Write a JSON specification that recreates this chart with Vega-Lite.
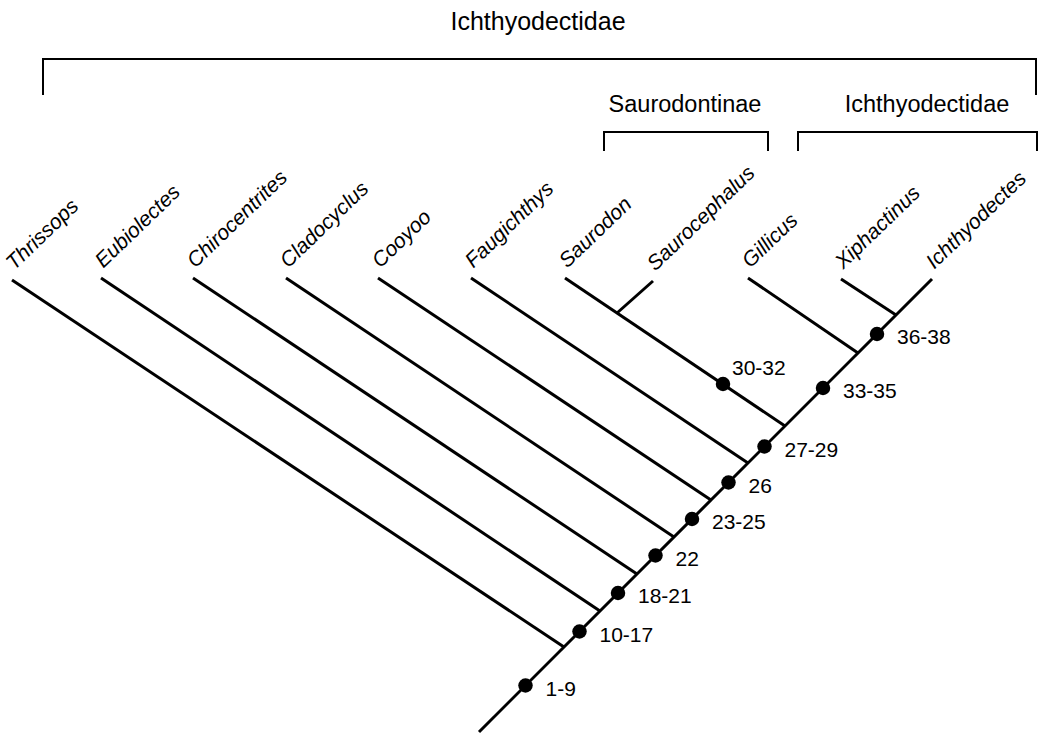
{
  "$schema": "https://vega.github.io/schema/vega-lite/v6.json",
  "width": 1041,
  "height": 734,
  "padding": 0,
  "autosize": {"type": "none"},
  "background": "white",
  "config": {"view": {"stroke": null}},
  "datasets": {
    "branches": [
      {"name": "spine", "x": 479, "y": 732, "x2": 932, "y2": 279},
      {"name": "Thrissops", "x": 12, "y": 280, "x2": 564, "y2": 647},
      {"name": "Eubiolectes", "x": 101, "y": 278, "x2": 600, "y2": 611},
      {"name": "Chirocentrites", "x": 193, "y": 278, "x2": 637, "y2": 574},
      {"name": "Cladocyclus", "x": 286, "y": 278, "x2": 674, "y2": 537},
      {"name": "Cooyoo", "x": 378, "y": 278, "x2": 711, "y2": 500},
      {"name": "Faugichthys", "x": 471, "y": 278, "x2": 748, "y2": 463},
      {"name": "Saurodon", "x": 565, "y": 278, "x2": 785, "y2": 426},
      {"name": "Saurocephalus", "x": 653, "y": 281, "x2": 617, "y2": 313},
      {"name": "Gillicus", "x": 748, "y": 278, "x2": 858, "y2": 353},
      {"name": "Xiphactinus", "x": 841, "y": 279, "x2": 896, "y2": 315}
    ],
    "brackets": [
      {"x": 43, "y": 59, "x2": 1036, "y2": 59},
      {"x": 43, "y": 59, "x2": 43, "y2": 94},
      {"x": 1036, "y": 59, "x2": 1036, "y2": 94},
      {"x": 604, "y": 132, "x2": 768, "y2": 132},
      {"x": 604, "y": 132, "x2": 604, "y2": 150},
      {"x": 768, "y": 132, "x2": 768, "y2": 150},
      {"x": 798, "y": 132, "x2": 1037, "y2": 132},
      {"x": 798, "y": 132, "x2": 798, "y2": 150},
      {"x": 1037, "y": 132, "x2": 1037, "y2": 150}
    ],
    "taxa": [
      {"taxon": "Thrissops", "x": 12, "y": 280},
      {"taxon": "Eubiolectes", "x": 101, "y": 278},
      {"taxon": "Chirocentrites", "x": 193, "y": 278},
      {"taxon": "Cladocyclus", "x": 286, "y": 278},
      {"taxon": "Cooyoo", "x": 378, "y": 278},
      {"taxon": "Faugichthys", "x": 471, "y": 278},
      {"taxon": "Saurodon", "x": 565, "y": 278},
      {"taxon": "Saurocephalus", "x": 653, "y": 281},
      {"taxon": "Gillicus", "x": 748, "y": 278},
      {"taxon": "Xiphactinus", "x": 841, "y": 279},
      {"taxon": "Ichthyodectes", "x": 932, "y": 279}
    ],
    "nodes": [
      {"chars": "1-9", "x": 525.5, "y": 685.5},
      {"chars": "10-17", "x": 579.5, "y": 631.5},
      {"chars": "18-21", "x": 618, "y": 593},
      {"chars": "22", "x": 655.5, "y": 555.5},
      {"chars": "23-25", "x": 692, "y": 519},
      {"chars": "26", "x": 728.5, "y": 482.5},
      {"chars": "27-29", "x": 764.5, "y": 446.5},
      {"chars": "30-32", "x": 723, "y": 384},
      {"chars": "33-35", "x": 823, "y": 388},
      {"chars": "36-38", "x": 877, "y": 334}
    ],
    "clades": [
      {"clade": "Ichthyodectidae", "x": 538, "y": 30, "level": "top"},
      {"clade": "Saurodontinae", "x": 685, "y": 112, "level": "sub"},
      {"clade": "Ichthyodectidae", "x": 927, "y": 112, "level": "sub"}
    ]
  },
  "encoding": {
    "x": {"field": "x", "type": "quantitative", "scale": {"domain": [0, 1041], "nice": false, "zero": false}, "axis": null},
    "y": {"field": "y", "type": "quantitative", "scale": {"domain": [0, 734], "nice": false, "zero": false, "reverse": true}, "axis": null}
  },
  "layer": [
    {
      "data": {"name": "branches"},
      "mark": {"type": "rule", "strokeWidth": 3, "color": "black"},
      "encoding": {"x2": {"field": "x2"}, "y2": {"field": "y2"}}
    },
    {
      "data": {"name": "brackets"},
      "mark": {"type": "rule", "strokeWidth": 2, "color": "black", "strokeCap": "square"},
      "encoding": {"x2": {"field": "x2"}, "y2": {"field": "y2"}}
    },
    {
      "data": {"name": "nodes"},
      "mark": {"type": "circle", "size": 210, "color": "black", "opacity": 1}
    },
    {
      "data": {"name": "nodes"},
      "transform": [{"filter": "datum.chars !== '30-32'"}],
      "mark": {"type": "text", "align": "left", "baseline": "middle", "dx": 20, "dy": 4, "fontSize": 21, "font": "Liberation Sans", "color": "black"},
      "encoding": {"text": {"field": "chars"}}
    },
    {
      "data": {"name": "nodes"},
      "transform": [{"filter": "datum.chars === '30-32'"}],
      "mark": {"type": "text", "align": "left", "baseline": "middle", "dx": 9, "dy": -15, "fontSize": 21, "font": "Liberation Sans", "color": "black"},
      "encoding": {"text": {"field": "chars"}}
    },
    {
      "data": {"name": "taxa"},
      "mark": {"type": "text", "align": "left", "baseline": "alphabetic", "angle": 316, "dx": 8, "dy": -5, "fontSize": 21, "fontStyle": "italic", "font": "Liberation Sans", "color": "black"},
      "encoding": {"text": {"field": "taxon"}}
    },
    {
      "data": {"name": "clades"},
      "transform": [{"filter": "datum.level === 'top'"}],
      "mark": {"type": "text", "align": "center", "baseline": "alphabetic", "fontSize": 25, "font": "Liberation Sans", "color": "black"},
      "encoding": {"text": {"field": "clade"}}
    },
    {
      "data": {"name": "clades"},
      "transform": [{"filter": "datum.level === 'sub'"}],
      "mark": {"type": "text", "align": "center", "baseline": "alphabetic", "fontSize": 23.5, "font": "Liberation Sans", "color": "black"},
      "encoding": {"text": {"field": "clade"}}
    }
  ]
}
